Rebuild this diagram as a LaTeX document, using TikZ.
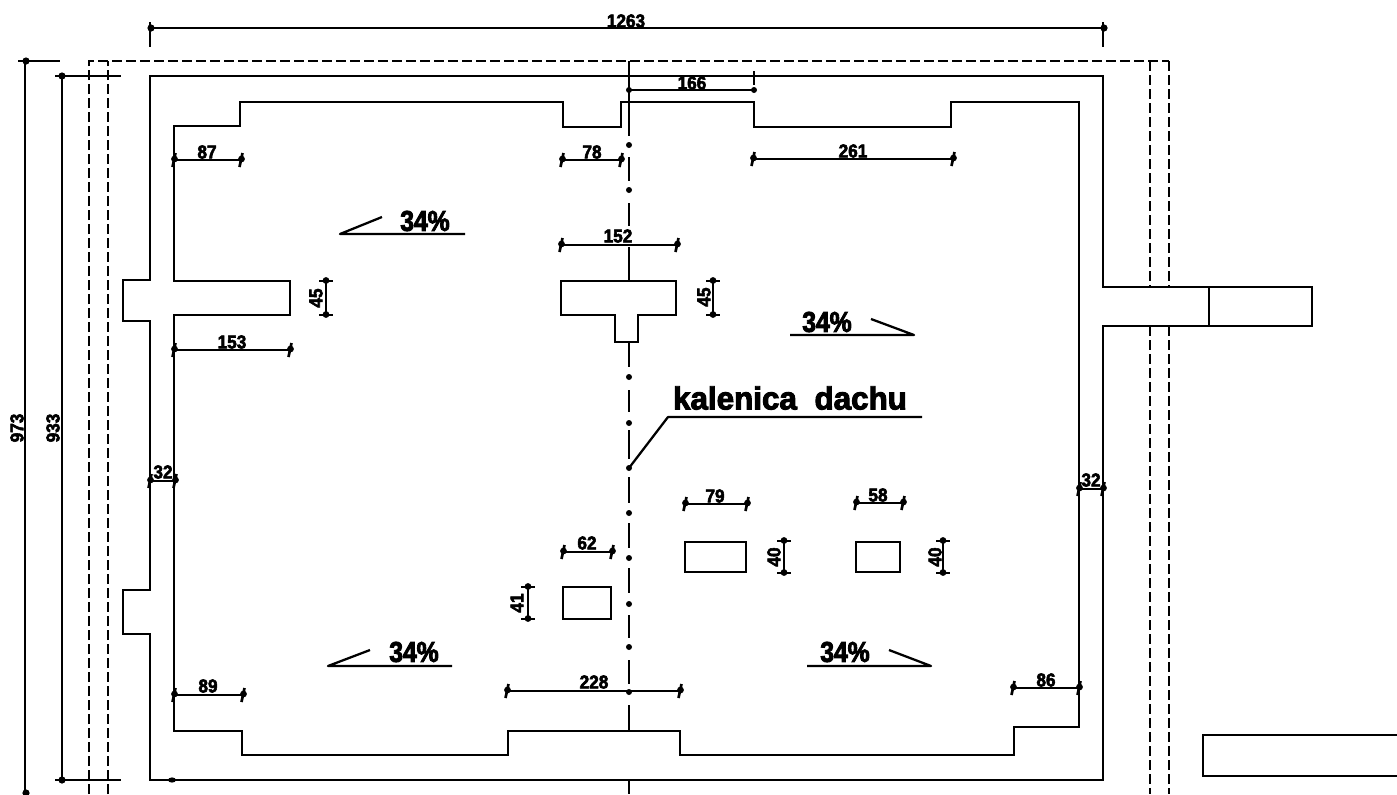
\documentclass[tikz,border=0pt]{standalone}
\usepackage{fontspec}
\newfontfamily\dimfont[FakeStretch=0.92,FakeBold=3]{Liberation Sans Bold}
\newfontfamily\slopefont[FakeStretch=0.86,FakeBold=3]{Liberation Sans Bold}
\newfontfamily\notefont[FakeStretch=0.98,FakeBold=3]{Liberation Sans Bold}
\tikzset{
  wall/.style={line width=2pt,line join=miter},
  thin wall/.style={line width=1.8pt,line join=miter},
  dimline/.style={line width=1.7pt,line join=round},
  hidden/.style={line width=1.9pt,dash pattern=on 7.4pt off 3.1pt},
  axis/.style={line width=1.8pt},
  dimtext/.style={inner sep=0pt,font=\dimfont\fontsize{14}{14}\selectfont},
  slopetext/.style={inner sep=0pt,font=\slopefont\fontsize{21.5}{22}\selectfont},
  notetext/.style={inner sep=0pt,font=\notefont\fontsize{24}{24}\selectfont},
}
% tick on a horizontal dimension line / on a vertical one
\newcommand{\tickH}[2]{\draw[line width=2pt] (#1-1.5,#2+7)--(#1+1.5,#2-7);\fill (#1+0.5,#2-1) circle[radius=3.4];}
\newcommand{\tickV}[2]{\draw[line width=2pt] (#1-7,#2)--(#1+7,#2);\fill (#1,#2-0.5) circle[radius=3.4];}
\newcommand{\hdim}[3]{\draw[dimline] (#1,#3)--(#2,#3);\tickH{#1}{#3}\tickH{#2}{#3}}
\newcommand{\vdim}[3]{\draw[dimline] (#3,#1)--(#3,#2);\tickV{#3}{#1}\tickV{#3}{#2}}
\begin{document}
\begin{tikzpicture}[x=0.75pt,y=-0.75pt]
\useasboundingbox (0,0) rectangle (1397,794);
% hidden lines
\draw[hidden] (89,794)--(89,61)--(1169,61);
\draw[hidden] (108,794)--(108,61);
\draw[hidden] (1150,61)--(1150,287);
\draw[hidden] (1169,61)--(1169,287);
\draw[hidden] (1150,326)--(1150,794);
\draw[hidden] (1169,326)--(1169,794);
% outer wall
\draw[wall] (150,76)--(1103,76)--(1103,287)--(1312,287)--(1312,326)--(1103,326)--(1103,780)--(150,780)--(150,634)--(123,634)--(123,590)--(150,590)--(150,321)--(123,321)--(123,280)--(150,280)--cycle;
\draw[thin wall] (1209,287)--(1209,326);
% inner line
\draw[wall] (174,281)--(174,126)--(240,126)--(240,102)--(563,102)--(563,127)--(621,127)--(621,102)--(754,102)--(754,127)--(951,127)--(951,102)--(1079,102)--(1079,727)--(1014,727)--(1014,755)--(680,755)--(680,731)--(508,731)--(508,755)--(242,755)--(242,731)--(174,731)--(174,315)--(290,315)--(290,281)--cycle;
% T chimney and openings
\draw[wall] (561,281)--(676,281)--(676,315)--(638,315)--(638,342)--(615,342)--(615,315)--(561,315)--cycle;
\draw[thin wall] (685,542) rectangle (746,572);
\draw[thin wall] (856,542) rectangle (900,572);
\draw[thin wall] (563,587) rectangle (611,619);
\draw[thin wall] (1397,735)--(1203,735)--(1203,776)--(1397,776);
% ridge axis
\draw[axis] (629,61)--(629,136) (629,157)--(629,181) (629,203)--(629,226) (629,247)--(629,281)
  (629,342)--(629,367) (629,390)--(629,412) (629,430)--(629,459) (629,477)--(629,503)
  (629,523)--(629,548) (629,568)--(629,593) (629,615)--(629,638) (629,660)--(629,684)
  (629,705)--(629,731) (629,780)--(629,794);
\foreach \d in {145,190,377,423,468,513,558,604,647,692}{\fill (629,\d) circle[radius=3];}
% ridge leader
\coordinate (ridgedot) at (629,468);
\coordinate (ridgeelbow) at (668,417);
\coordinate (ridgeend) at (922,417);
\draw[dimline] (ridgedot)--(ridgeelbow)--(ridgeend);
\node[notetext] (ridge) at (790,398) {kalenica\hspace{0.28em} dachu};
% overall dimensions
\draw[dimline] (150,28)--(1103,28);
\draw[dimline] (150,22)--(150,47) (1103,22)--(1103,47);
\fill (151,28) circle[radius=3.6]; \fill (1104,28) circle[radius=3.6];
\node[dimtext] (d1263) at (626,21) {1263};
\draw[dimline] (25,61)--(25,794) (18,61)--(60,61);
\fill (26,61) circle[radius=3.6]; \fill (26,793) circle[radius=3.6];
\node[dimtext,rotate=90] (d973) at (17,428) {973};
\draw[dimline] (62,76)--(62,780) (55,76)--(121,76) (55,780)--(121,780);
\fill (62,76) circle[radius=3.6]; \fill (62,780) circle[radius=3.6];
\node[dimtext,rotate=90] (d933) at (53,428) {933};
\fill (172,780) ellipse[x radius=4,y radius=2.6];
% horizontal dimensions
\hdim{174}{241}{160} \node[dimtext] (d87) at (207,152) {87};
\hdim{562}{621}{160} \node[dimtext] (d78) at (592,152) {78};
\hdim{753}{953}{159} \node[dimtext] (d261) at (853,151) {261};
\draw[dimline] (629,90)--(754,90) (754,71)--(754,85);
\fill (629,90) circle[radius=3]; \fill (754,90) circle[radius=3];
\node[dimtext] (d166) at (692,83) {166};
\hdim{561}{677}{245} \node[dimtext] (d152) at (618,236) {152};
\hdim{174}{290}{350} \node[dimtext] (d153) at (232,342) {153};
\hdim{150}{175}{481} \node[dimtext] (d32a) at (163,472) {32};
\hdim{1079}{1103}{489} \node[dimtext] (d32b) at (1091,480) {32};
\hdim{563}{612}{552} \node[dimtext] (d62) at (587,543) {62};
\hdim{685}{747}{504} \node[dimtext] (d79) at (715,496) {79};
\hdim{856}{903}{503} \node[dimtext] (d58) at (878,495) {58};
\hdim{507}{680}{691} \node[dimtext] (d228) at (594,682) {228};
\hdim{174}{243}{695} \node[dimtext] (d89) at (208,686) {89};
\hdim{1013}{1079}{688} \node[dimtext] (d86) at (1046,680) {86};
% vertical dimensions
\vdim{281}{315}{326} \node[dimtext,rotate=90] (d45a) at (316,298) {45};
\vdim{281}{315}{713} \node[dimtext,rotate=90] (d45b) at (704,297) {45};
\vdim{587}{619}{528} \node[dimtext,rotate=90] (d41) at (517,603) {41};
\vdim{541}{573}{784} \node[dimtext,rotate=90] (d40a) at (774,557) {40};
\vdim{541}{573}{943} \node[dimtext,rotate=90] (d40b) at (935,557) {40};
% roof slopes
\draw[dimline] (382,217)--(340,234)--(465,234);
\node[slopetext] (s1) at (425,221) {34\%};
\draw[dimline] (871,319)--(914,335)--(790,335);
\node[slopetext] (s2) at (827,322) {34\%};
\draw[dimline] (370,650)--(328,666)--(452,666);
\node[slopetext] (s3) at (414,652) {34\%};
\draw[dimline] (889,650)--(931,666)--(807,666);
\node[slopetext] (s4) at (845,652) {34\%};
\end{tikzpicture}
\end{document}
